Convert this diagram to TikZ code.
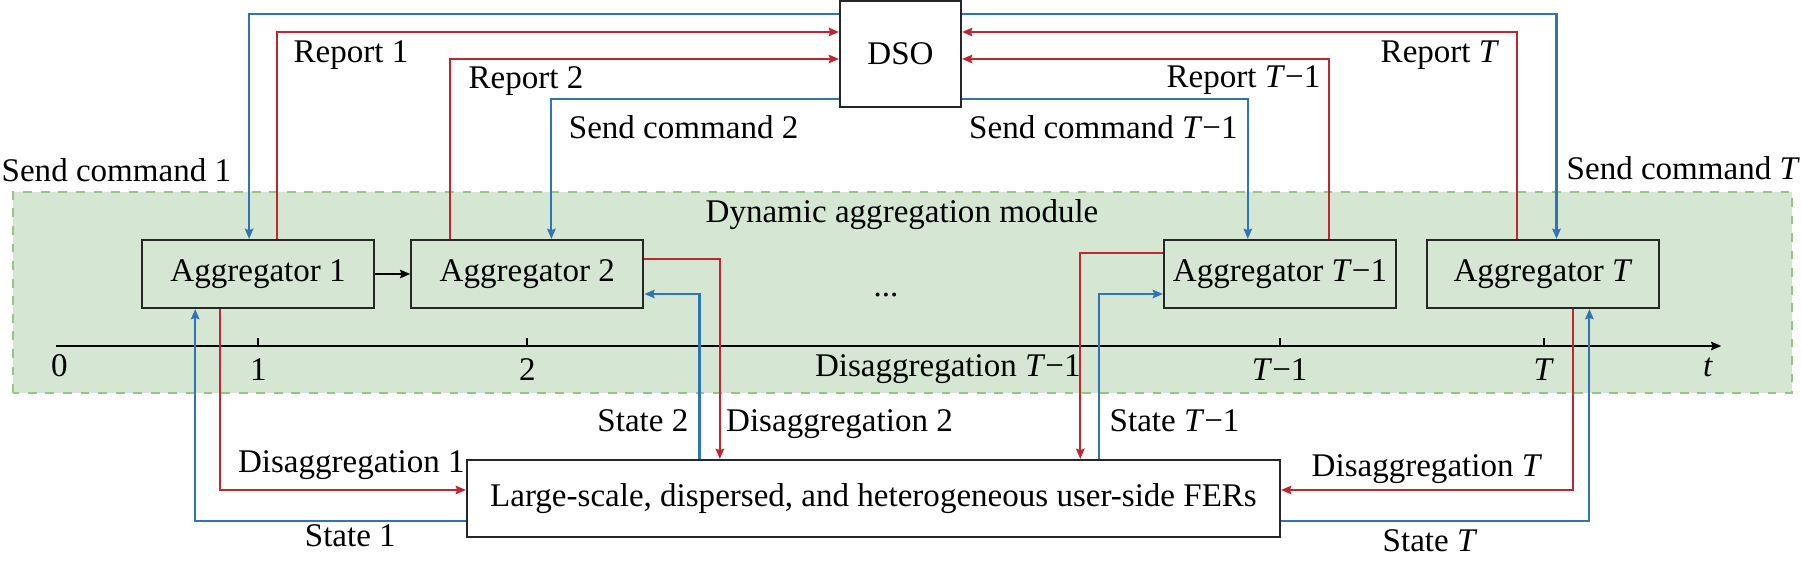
\documentclass[tikz,border=0pt]{standalone}
\usepackage{fontspec}
\setmainfont{Liberation Serif}
\usetikzlibrary{arrows.meta,positioning}
\definecolor{repred}{RGB}{190,38,48}
\definecolor{cmdblue}{RGB}{46,117,182}
\definecolor{modfill}{RGB}{213,231,211}
\definecolor{moddash}{RGB}{150,198,130}
\begin{document}
\begin{tikzpicture}[font=\fontsize{9.4}{11.3}\selectfont,
		>={Stealth[length=2.9pt,width=2.4pt,inset=0.4pt]},
		box/.style={draw=black!85,line width=0.6pt,minimum height=0.68cm,minimum width=2.32cm,inner sep=0pt},
		lab/.style={inner sep=0pt,anchor=base west},
		repline/.style={repred,line width=0.6pt},
		cmdline/.style={cmdblue,line width=0.6pt}]
		\useasboundingbox (0,0) rectangle (18.01,5.63);
		\def\Tm{\textit{T}−1}
		
		% module background
		\draw[moddash,fill=modfill,line width=0.6pt,dash pattern=on 2.5pt off 2.5pt] (0.134,1.70) rectangle (17.922,3.71);
		\node[inner sep=0pt,anchor=base] (modlab) at (9.02,3.40) {Dynamic aggregation module};
		
		% boxes
		\node[box,fill=white,minimum width=1.21cm,minimum height=1.06cm] (dso) at (9.005,5.09) {DSO};
		\node[box] (agg1) at (2.581,2.89) {Aggregator 1};
		\node[box] (agg2) at (5.273,2.89) {Aggregator 2};
		\node[box] (aggm) at (12.80,2.89) {Aggregator \Tm};
		\node[box] (aggT) at (15.43,2.89) {Aggregator \textit{T}};
		\node[box,fill=white,minimum width=8.13cm,minimum height=0.77cm] (fer) at (8.735,0.645) {Large-scale, dispersed, and heterogeneous user-side FERs};
		\node[inner sep=0pt] (dots) at (8.86,2.68) {...};
		\draw[->,line width=0.6pt] (agg1) -- (agg2);
		
		% time axis
		\coordinate (ax0) at (0.563,2.17);
		\coordinate (ax1) at (17.213,2.17);
		\draw[->,line width=0.6pt] (ax0) -- (ax1);
		\node[inner sep=0pt,anchor=base] (lab0) at (0.593,1.86) {0};
		\node[inner sep=0pt,anchor=base] (labt) at (17.08,1.86) {\textit{t}};
		\foreach \x/\l [count=\i] in {2.583/1,5.273/2,12.797/\Tm,15.438/\textit{T}}{
			\draw[line width=0.6pt] (\x,2.17) -- (\x,2.25);
			\node[inner sep=0pt,anchor=base] (tick\i) at (\x,1.82) {\l};
		}
		
		% commands and reports
		\draw[cmdline,->] ([yshift=0.40cm]dso.west) -| ([xshift=-0.09cm]agg1.north);
		\draw[repline,->] ([xshift=0.186cm]agg1.north) |- ([yshift=0.22cm]dso.west);
		\draw[repline,->] ([xshift=-0.777cm]agg2.north) |- ([yshift=-0.05cm]dso.west);
		\draw[cmdline,->] ([yshift=-0.45cm]dso.west) -| ([xshift=0.241cm]agg2.north);
		\draw[cmdline,->] ([yshift=-0.45cm]dso.east) -| ([xshift=-0.322cm]aggm.north);
		\draw[repline,->] ([xshift=0.488cm]aggm.north) |- ([yshift=-0.05cm]dso.east);
		\draw[repline,->] ([xshift=-0.256cm]aggT.north) |- ([yshift=0.22cm]dso.east);
		\draw[cmdline,->] ([yshift=0.40cm]dso.east) -| ([xshift=0.135cm]aggT.north);
		
		% disaggregation and states
		\draw[repline,->] ([xshift=-0.381cm]agg1.south) |- ([yshift=0.085cm]fer.west);
		\draw[cmdline,->] ([yshift=-0.225cm]fer.west) -| ([xshift=-0.629cm]agg1.south);
		\draw[repline,->] ([yshift=0.15cm]agg2.east) -| ([xshift=-1.537cm]fer.north);
		\draw[cmdline,->] ([xshift=-1.74cm]fer.north) |- ([yshift=-0.20cm]agg2.east);
		\draw[repline,->] ([yshift=0.21cm]aggm.west) -| ([xshift=2.068cm]fer.north);
		\draw[cmdline,->] ([xshift=2.259cm]fer.north) |- ([yshift=-0.20cm]aggm.west);
		\draw[repline,->] ([xshift=0.296cm]aggT.south) |- ([yshift=0.085cm]fer.east);
		\draw[cmdline,->] ([yshift=-0.225cm]fer.east) -| ([xshift=0.464cm]aggT.south);
		
		% labels
		\node[lab] (sc1) at (0.01,3.81) {Send command 1};
		\node[lab] (rp1) at (2.93,5.00) {Report 1};
		\node[lab] (rp2) at (4.68,4.74) {Report 2};
		\node[lab,anchor=base east] (sc2) at (7.99,4.24) {Send command 2};
		\node[lab] (scm) at (9.685,4.24) {Send command \Tm};
		\node[lab,anchor=base east] (rpm) at (13.21,4.75) {Report \Tm};
		\node[lab] (rpT) at (13.80,5.00) {Report \textit{T}};
		\node[lab] (scT) at (15.66,3.83) {Send command \textit{T}};
		\node[lab] (dsm) at (8.143,1.86) {Disaggregation \Tm};
		\node[lab,anchor=base east] (st2) at (6.89,1.31) {State 2};
		\node[lab] (ds2) at (7.255,1.31) {Disaggregation 2};
		\node[lab] (stm) at (11.09,1.31) {State \Tm};
		\node[lab] (ds1) at (2.373,0.90) {Disaggregation 1};
		\node[lab] (dsT) at (13.11,0.86) {Disaggregation \textit{T}};
		\node[lab] (st1) at (3.042,0.16) {State 1};
		\node[lab] (stT) at (13.82,0.11) {State \textit{T}};
	\end{tikzpicture}
\end{document}
